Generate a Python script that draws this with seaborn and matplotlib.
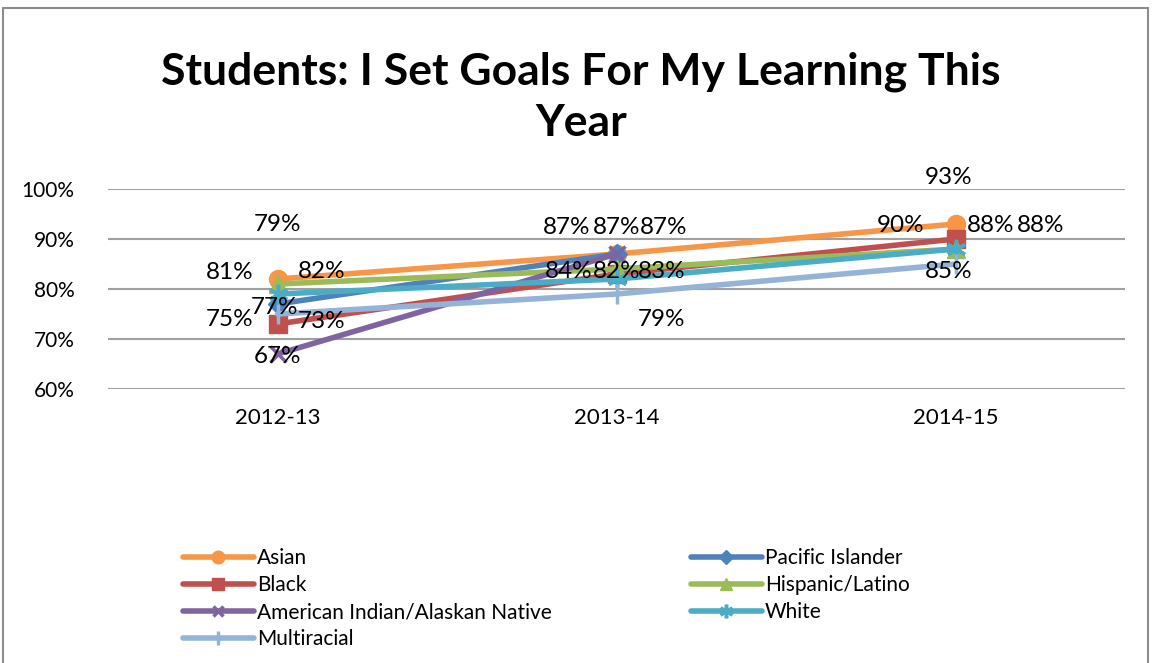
import matplotlib
matplotlib.use("Agg")
import matplotlib.pyplot as plt
import seaborn as sns
import numpy as np
from matplotlib.patches import Rectangle
from matplotlib.lines import Line2D

years = ["2012-13", "2013-14", "2014-15"]
series_names = ["Asian", "Pacific Islander", "Black", "Hispanic/Latino",
                "American Indian/Alaskan Native", "White", "Multiracial"]
asian = [0.82, 0.87, 0.93]
pacific_islander = [0.77, 0.87, np.nan]
black = [0.73, 0.83, 0.90]
hispanic = [0.81, 0.84, 0.88]
american_indian = [0.67, 0.87, np.nan]
white = [0.79, 0.82, 0.88]
multiracial = [0.75, 0.79, 0.85]
values = [asian, pacific_islander, black, hispanic, american_indian, white, multiracial]
y_ticks = [0.6, 0.7, 0.8, 0.9, 1.0]

colors = ["#F79646", "#4F81BD", "#C0504D", "#9BBB59", "#8064A2", "#4BACC6", "#95B3D7"]
markers = ["o", "D", "s", "^", "x", (6, 2, 0), "|"]
msizes = [13, 10, 13, 13, 11, 14, 14]
# label offsets in pixels for each series/point (placement only)
offsets = [
    [(44, 7), (-50, 27), (-7, 46)],
    [(-3, -4), (0, 27), None],
    [(44, 3), (45, 2), (-55, 14)],
    [(-48, 11), (-48, -3), (85, 24)],
    [(0, -3), (47, 27), None],
    [(0, 69), (0, 7), (35, 24)],
    [(-48, -6), (45, -26), (-7, -8)],
]

sns.set_theme(style="white")
plt.rcParams["font.family"] = ["Lato", "DejaVu Sans"]
plt.rcParams["text.color"] = "black"
plt.rcParams["xtick.color"] = "black"
plt.rcParams["ytick.color"] = "black"

W, H = 1153, 663
fig = plt.figure(figsize=(W / 100, H / 100), dpi=100)
ax = fig.add_axes([108 / W, (H - 389) / H, (1125 - 108) / W, 200 / H])

xs = np.arange(len(years))
for name, vals, c, m, ms in zip(series_names, values, colors, markers, msizes):
    mew = 2.5 if m in ("x", "|", (6, 2, 0)) else 1
    sns.lineplot(x=xs, y=vals, ax=ax, color=c, marker=m, markersize=ms,
                 markeredgecolor=c, markeredgewidth=mew, linewidth=4,
                 label=name, legend=False)

for vals, offs in zip(values, offsets):
    for x, v, off in zip(xs, vals, offs):
        if off is None or np.isnan(v):
            continue
        ax.annotate(f"{v * 100:.0f}%", (x, v), xytext=off, textcoords="offset pixels",
                    ha="center", va="center", fontsize=17.5, color="black",
                    annotation_clip=False)

ax.set_xlim(-0.5, len(years) - 0.5)
ax.set_ylim(0.6, 1.0)
ax.set_yticks(y_ticks)
ax.set_yticklabels([f"{t * 100:.0f}%" for t in y_ticks])
ax.set_xticks(xs)
ax.set_xticklabels(years)
ax.tick_params(axis="y", labelsize=15, pad=24, length=0, labelcolor="black")
ax.tick_params(axis="x", labelsize=16, pad=14, length=0, labelcolor="black")
ax.grid(axis="y", color="#A0A0A0", linewidth=1.5)
ax.grid(axis="x", visible=False)
for s in ax.spines.values():
    s.set_visible(False)
ax.set_xlabel("")
ax.set_ylabel("")

fig.text(581 / W, 1 - 97 / H, "Students: I Set Goals For My Learning This\nYear",
         ha="center", va="center", fontsize=32, fontweight="bold",
         linespacing=1.32, color="black")

def handle(i):
    m = markers[i]
    mew = 2.5 if m in ("x", "|", (6, 2, 0)) else 1
    return Line2D([], [], color=colors[i], marker=m, markersize=msizes[i] * 0.7,
                  markeredgecolor=colors[i], markeredgewidth=mew, linewidth=4)

col1 = [0, 2, 4, 6]
col2 = [1, 3, 5]
for col, xpos in ((col1, 183), (col2, 691)):
    leg = fig.legend([handle(i) for i in col], [series_names[i] for i in col],
                     loc="upper left", bbox_to_anchor=(xpos / W, 1 - 548 / H),
                     frameon=False, fontsize=15, handlelength=3.4,
                     handletextpad=0.15, labelspacing=0.34, borderaxespad=0,
                     borderpad=0)
    for t in leg.get_texts():
        t.set_color("black")

fig.add_artist(Rectangle((3 / W, -0.01), (1148 - 3) / W, 1 - 8 / H + 0.01,
                         transform=fig.transFigure, fill=False,
                         edgecolor="#8C8C8C", linewidth=1.5))

fig.savefig("out.png", dpi=100)
